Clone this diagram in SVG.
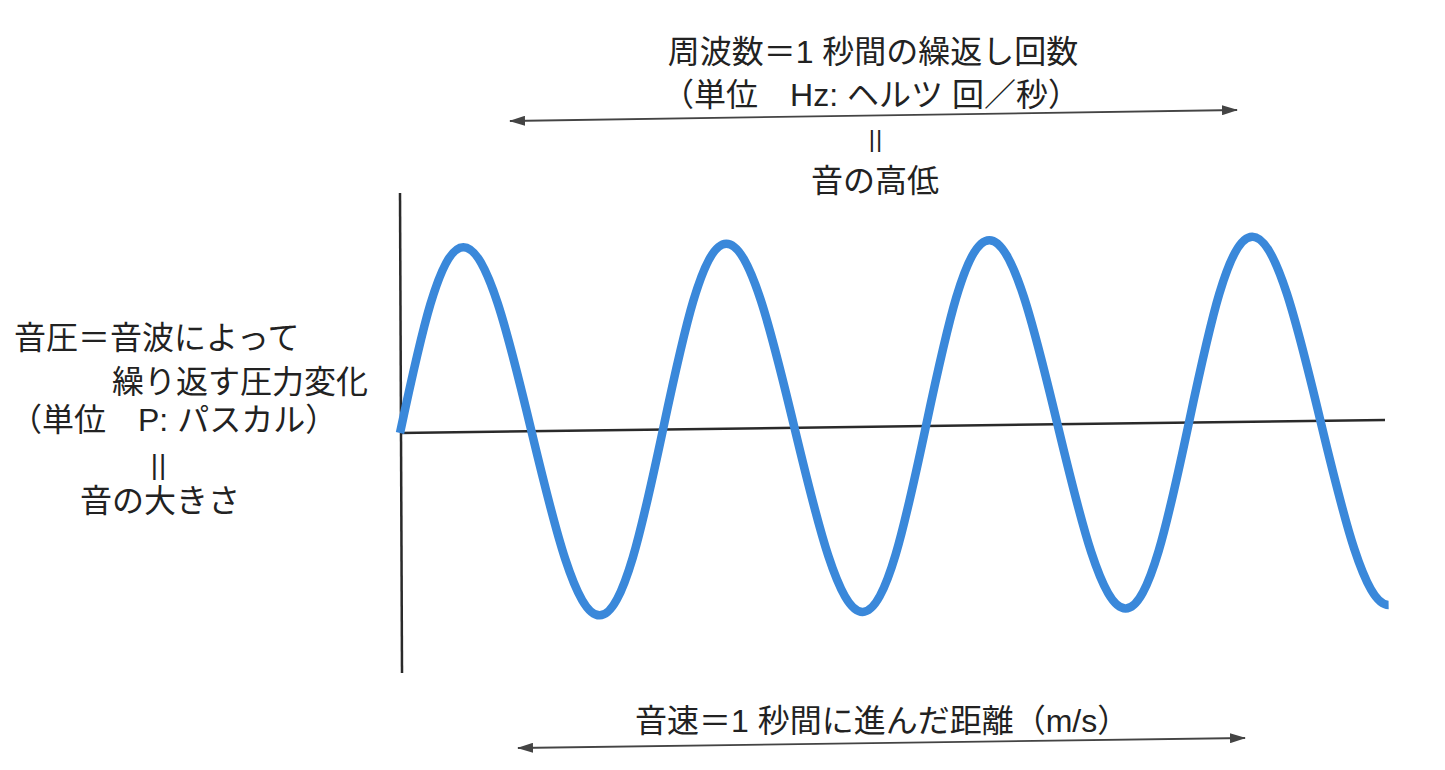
<svg xmlns="http://www.w3.org/2000/svg" width="1445" height="770" viewBox="0 0 1445 770">
  <style>
    .t { font-family: "Liberation Sans", "Noto Sans CJK JP", sans-serif; font-size: 32px; fill: #222; }
    .eq { font-family: "Liberation Sans", sans-serif; fill: #222; letter-spacing: 1px; }
    .axis { stroke: #2a2a2a; stroke-width: 2.5; fill: none; }
    .arrow { stroke: #444; stroke-width: 1.8; fill: none; marker-start: url(#ah); marker-end: url(#ah); }
    .wave { stroke: #3a88da; stroke-width: 8.5; fill: none; stroke-linecap: butt; }
  </style>
  <defs>
    <marker id="ah" viewBox="0 0 16 10" refX="15" refY="5" markerWidth="16" markerHeight="10" markerUnits="userSpaceOnUse" orient="auto-start-reverse">
      <path d="M0,0 L16,5 L0,10 Z" fill="#444"/>
    </marker>
  </defs>
  <rect width="1445" height="770" fill="#ffffff"/>

  <g id="axes">
    <line class="axis" x1="400" y1="193" x2="402" y2="673"/>
    <line class="axis" x1="400" y1="433" x2="1385" y2="420" stroke="#444"/>
  </g>

  <g id="wave" transform="rotate(-0.76 400 433)">
    <path class="wave" d="M400,433
      c21.44,-94.8 41.96,-185 65.75,-185 c23.79,0 44.31,90.2 65.75,185 c21.44,94.8 41.96,185 65.75,185 c23.79,0 44.31,-90.2 65.75,-185
      c21.44,-94.8 41.96,-185 65.75,-185 c23.79,0 44.31,90.2 65.75,185 c21.44,94.8 41.96,185 65.75,185 c23.79,0 44.31,-90.2 65.75,-185
      c21.44,-94.8 41.96,-185 65.75,-185 c23.79,0 44.31,90.2 65.75,185 c21.44,94.8 41.96,185 65.75,185 c23.79,0 44.31,-90.2 65.75,-185
      c21.44,-94.8 41.96,-185 65.75,-185 c23.79,0 44.31,90.2 65.75,185 c21.44,94.8 41.96,185 65.75,185"/>
  </g>

  <g id="connectors">
    <line class="arrow" x1="510" y1="121" x2="1237" y2="110"/>
    <line class="arrow" x1="518" y1="748" x2="1245" y2="738"/>
  </g>

  <g id="frequency">
    <text class="t" x="873" y="63" text-anchor="middle">周波数＝1 秒間の繰返し回数</text>
    <text class="t" x="871" y="106" text-anchor="middle">（単位　Hz: ヘルツ 回／秒）</text>
    <text class="eq" x="876" y="147" font-size="24" text-anchor="middle">||</text>
    <text class="t" x="875" y="192" text-anchor="middle">音の高低</text>
  </g>

  <g id="pressure">
    <text class="t" x="14" y="349">音圧＝音波によって</text>
    <text class="t" x="112" y="393">繰り返す圧力変化</text>
    <text class="t" x="10" y="431">（単位　P: パスカル）</text>
    <text class="eq" x="159" y="474" font-size="28" text-anchor="middle">||</text>
    <text class="t" x="80" y="512">音の大きさ</text>
  </g>

  <g id="speed">
    <text class="t" x="635" y="732">音速＝1 秒間に進んだ距離（m/s）</text>
  </g>
</svg>
